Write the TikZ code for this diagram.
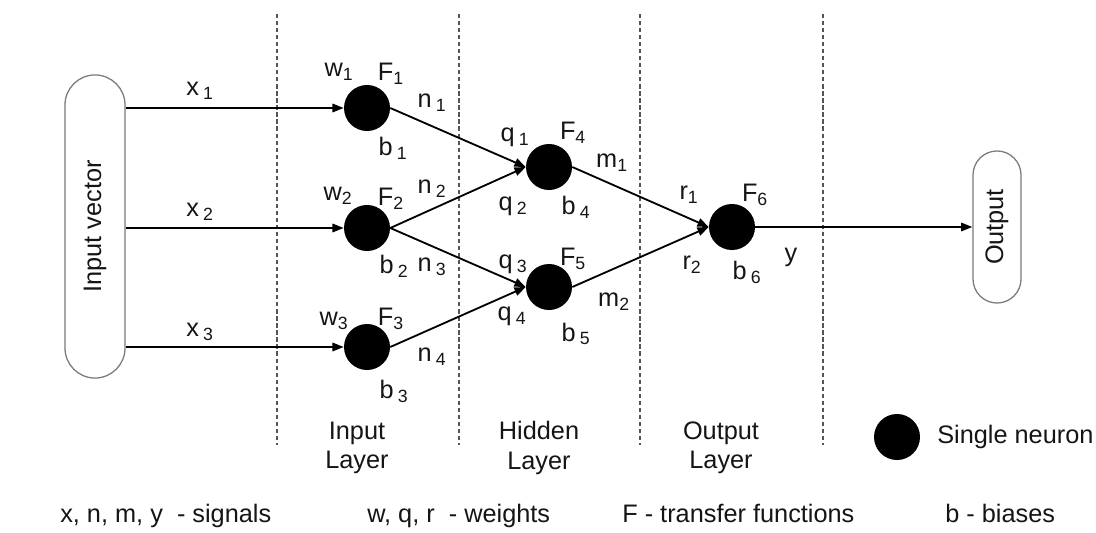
\documentclass[tikz,border=0pt]{standalone}
\usepackage{fontspec}
\setmainfont{Liberation Sans}
\usetikzlibrary{arrows.meta}
\definecolor{ink}{HTML}{151515}
\definecolor{rim}{HTML}{7A7A7A}
\definecolor{guide}{HTML}{555555}
\newcommand{\lblfont}{\fontsize{18}{21}\selectfont}
\newcommand{\sub}[1]{\textsubscript{#1}}
\tikzset{
  neuron/.style={circle, fill=black, draw=none, minimum size=1.15cm, inner sep=0pt},
  pill/.style={draw=rim, line width=0.9pt, rounded corners=#1, inner sep=0pt, fill=white, font=\lblfont, text=ink},
  lbl/.style={font=\lblfont, inner sep=0pt, text=ink},
  layer/.style={lbl, align=center},
  wire/.style={-{Triangle[length=8pt,width=6pt]}, line width=1.3pt, draw=black},
  divider/.style={draw=guide, line width=0.8pt, dash pattern=on 3pt off 2pt}
}

\begin{document}
\begin{tikzpicture}[x=0.025cm,y=-0.025cm]
\useasboundingbox (0,0) rectangle (1096,532);
\foreach \gx in {277,459,640,823} \draw[divider] (\gx,14) -- (\gx,445);
\node[pill=0.75cm, minimum width=1.5cm, minimum height=7.575cm] (inp) at (95,226.5) {\rotatebox{90}{Input vector}};
\node[pill=0.6cm, minimum width=1.2cm, minimum height=3.8cm] (out) at (997,227) {\rotatebox{90}{Output}};
\node[neuron] (a1) at (367,108) {};
\node[neuron] (a2) at (367,228) {};
\node[neuron] (a3) at (367,347) {};
\node[neuron] (h1) at (549,167) {};
\node[neuron] (h2) at (549,287) {};
\node[neuron] (o1) at (732,227) {};
\draw[wire] (inp.east |- a1) -- (a1); \draw[wire] (inp.east |- a2) -- (a2); \draw[wire] (inp.east |- a3) -- (a3);
\draw[wire] (a1.east) -- (h1.west); \draw[wire] (a2.east) -- (h1.west);
\draw[wire] (a2.east) -- (h2.west); \draw[wire] (a3.east) -- (h2.west);
\draw[wire] (h1.east) -- (o1.west); \draw[wire] (h2.east) -- (o1.west);
\draw[wire] (o1) -- (out);
\node[lbl] (lx1) at (200,91) {x\,\sub{1}};
\node[lbl] (lx2) at (200,212) {x\,\sub{2}};
\node[lbl] (lx3) at (200,332) {x\,\sub{3}};
\node[lbl] (lw1) at (339,72) {w\sub{1}}; \node[lbl] (lF1) at (391,74) {F\sub{1}};
\node[lbl] (ln1) at (432,103) {n\,\sub{1}}; \node[lbl] (lb1) at (393,148) {b\,\sub{1}};
\node[lbl] (lw2) at (338,196) {w\sub{2}}; \node[lbl] (lF2) at (391,199) {F\sub{2}};
\node[lbl] (ln2) at (432,189) {n\,\sub{2}}; \node[lbl] (lb2) at (394,266) {b\,\sub{2}};
\node[lbl] (ln3) at (432,267) {n\,\sub{3}};
\node[lbl] (lw3) at (334,321) {w\sub{3}}; \node[lbl] (lF3) at (391,319) {F\sub{3}};
\node[lbl] (ln4) at (432,357) {n\,\sub{4}}; \node[lbl] (lb3) at (394,391) {b\,\sub{3}};
\node[lbl] (lq1) at (515,137) {q\,\sub{1}}; \node[lbl] (lq2) at (513,206) {q\,\sub{2}};
\node[lbl] (lq3) at (513,264) {q\,\sub{3}}; \node[lbl] (lq4) at (512,316) {q\,\sub{4}};
\node[lbl] (lF4) at (573,133) {F\sub{4}}; \node[lbl] (lb4) at (576,207) {b\,\sub{4}};
\node[lbl] (lF5) at (573,259) {F\sub{5}}; \node[lbl] (lb5) at (576,334) {b\,\sub{5}};
\node[lbl] (lm1) at (612,163) {m\sub{1}}; \node[lbl] (lm2) at (614,302) {m\sub{2}};
\node[lbl] (lr1) at (689,195) {r\sub{1}}; \node[lbl] (lr2) at (692,265) {r\sub{2}};
\node[lbl] (lF6) at (755,195) {F\sub{6}}; \node[lbl] (lb6) at (747,272) {b\,\sub{6}};
\node[lbl] (ly) at (791,257) {y};
\node[layer] (linput) at (357,448) {Input\\Layer};
\node[layer] (lhidden) at (539,448) {Hidden\\Layer};
\node[layer] (loutput) at (721,448) {Output\\Layer};
\node[neuron] (key) at (897,437) {};
\node[lbl, anchor=west] (keytxt) at (937,437) {Single neuron};
\node[lbl, anchor=base west] (sig) at (60,522) {x, n, m, y\ \ - signals};
\node[lbl, anchor=base west] (wts) at (367,522) {w, q, r\ \ - weights};
\node[lbl, anchor=base west] (tf) at (622,522) {F - transfer functions};
\node[lbl, anchor=base west] (bs) at (945,522) {b - biases};
\end{tikzpicture}
\end{document}
